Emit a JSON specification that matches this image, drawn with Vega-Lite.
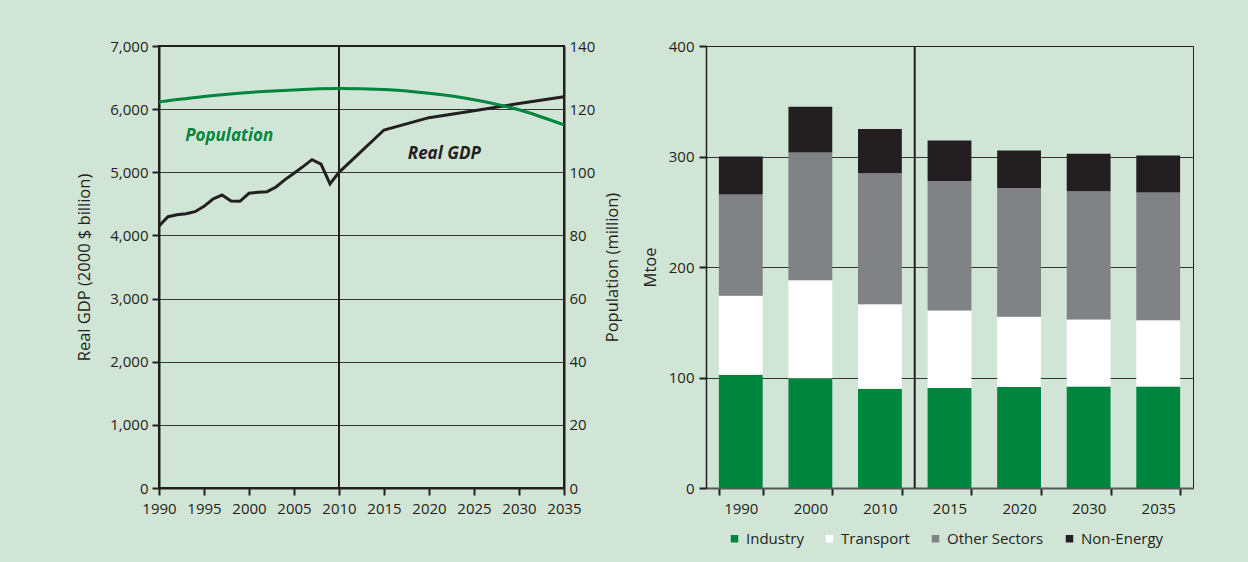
{
  "$schema": "https://vega.github.io/schema/vega-lite/v6.json",
  "background": "#d1e5d7",
  "padding": {"left": 75, "top": 38, "right": 56, "bottom": 15},
  "config": {
    "font": "Open Sans",
    "view": {"stroke": null},
    "axis": {
      "labelFont": "Open Sans", "labelFontSize": 15, "labelColor": "#231f20",
      "titleFont": "Open Sans", "titleFontSize": 16.5, "titleFontWeight": "normal", "titleColor": "#231f20",
      "domainColor": "#231f20", "tickColor": "#231f20", "gridColor": "#231f20", "gridWidth": 1, "gridOpacity": 0.9, "tickSize": 7,
      "labelOverlap": false
    },
    "concat": {"spacing": 18}
  },
  "hconcat": [
    {
      "width": 405,
      "height": 442,
      "view": {"stroke": "#231f20", "strokeWidth": 2},
      "layer": [
        {
          "data": {"values": [
            {"year": 1990, "gdp": 4150}, {"year": 1991, "gdp": 4296}, {"year": 1992, "gdp": 4328},
            {"year": 1993, "gdp": 4344}, {"year": 1994, "gdp": 4376}, {"year": 1995, "gdp": 4460},
            {"year": 1996, "gdp": 4577}, {"year": 1997, "gdp": 4640}, {"year": 1998, "gdp": 4545},
            {"year": 1999, "gdp": 4540}, {"year": 2000, "gdp": 4667}, {"year": 2001, "gdp": 4683},
            {"year": 2002, "gdp": 4693}, {"year": 2003, "gdp": 4767}, {"year": 2004, "gdp": 4884},
            {"year": 2005, "gdp": 4984}, {"year": 2006, "gdp": 5090}, {"year": 2007, "gdp": 5200},
            {"year": 2008, "gdp": 5130}, {"year": 2009, "gdp": 4815}, {"year": 2010, "gdp": 5000},
            {"year": 2015, "gdp": 5670}, {"year": 2020, "gdp": 5865}, {"year": 2025, "gdp": 5975},
            {"year": 2030, "gdp": 6090}, {"year": 2035, "gdp": 6195}
          ]},
          "layer": [
            {
              "data": {"values": [{"year": 2010}]},
              "mark": {"type": "rule", "color": "#231f20", "strokeWidth": 2},
              "encoding": {
                "x": {"field": "year", "type": "quantitative"}
              }
            },
            {
              "mark": {"type": "line", "color": "#231f20", "strokeWidth": 3},
              "encoding": {
                "x": {
                  "field": "year", "type": "quantitative",
                  "scale": {"domain": [1990, 2035], "nice": false, "zero": false},
                  "axis": {
                    "title": null, "values": [1990, 1995, 2000, 2005, 2010, 2015, 2020, 2025, 2030, 2035],
                    "format": "d", "grid": false, "domainWidth": 2, "tickWidth": 2, "labelPadding": 6,
                    "labelFlush": false
                  }
                },
                "y": {
                  "field": "gdp", "type": "quantitative",
                  "scale": {"domain": [0, 7000], "nice": false},
                  "axis": {
                    "title": "Real GDP (2000 $ billion)", "values": [0, 1000, 2000, 3000, 4000, 5000, 6000, 7000],
                    "format": ",d", "grid": true, "domainWidth": 2, "tickWidth": 2, "labelPadding": 4, "titlePadding": 17
                  }
                }
              }
            },
            {
              "data": {"values": [{"label": "Population", "year": 1997.8, "gdp": 5568}]},
              "mark": {"type": "text", "color": "#00853f", "fontSize": 17, "fontWeight": "bold", "fontStyle": "italic"},
              "encoding": {
                "x": {"field": "year", "type": "quantitative"},
                "y": {"field": "gdp", "type": "quantitative"},
                "text": {"field": "label"}
              }
            },
            {
              "data": {"values": [{"label": "Real GDP", "year": 2021.7, "gdp": 5282}]},
              "mark": {"type": "text", "color": "#231f20", "fontSize": 17, "fontWeight": "bold", "fontStyle": "italic"},
              "encoding": {
                "x": {"field": "year", "type": "quantitative"},
                "y": {"field": "gdp", "type": "quantitative"},
                "text": {"field": "label"}
              }
            }
          ]
        },
        {
          "data": {"values": [
            {"year": 1990, "pop": 122.3}, {"year": 1995, "pop": 124.0}, {"year": 2000, "pop": 125.3},
            {"year": 2005, "pop": 126.1}, {"year": 2010, "pop": 126.5}, {"year": 2015, "pop": 126.2},
            {"year": 2020, "pop": 125.0}, {"year": 2025, "pop": 123.0}, {"year": 2030, "pop": 119.8},
            {"year": 2035, "pop": 115.0}
          ]},
          "mark": {"type": "line", "color": "#00853f", "strokeWidth": 3, "interpolate": "monotone"},
          "encoding": {
            "x": {"field": "year", "type": "quantitative"},
            "y": {
              "field": "pop", "type": "quantitative",
              "scale": {"domain": [0, 140], "nice": false},
              "axis": {
                "orient": "right", "title": "Population (million)", "values": [0, 20, 40, 60, 80, 100, 120, 140],
                "grid": false, "ticks": false, "domainWidth": 2, "labelPadding": 5, "titlePadding": 10,
                "titleAngle": 270, "titleBaseline": "top"
              }
            }
          }
        }
      ],
      "resolve": {"scale": {"y": "independent"}}
    },
    {
      "width": 487,
      "height": 442,
      "view": {"stroke": "#231f20", "strokeWidth": 1},
      "layer": [
        {
          "data": {"values": [
            {"year": 1990, "sector": "Industry", "ord": 1, "value": 102.4},
            {"year": 1990, "sector": "Transport", "ord": 2, "value": 71.5},
            {"year": 1990, "sector": "Other Sectors", "ord": 3, "value": 91.7},
            {"year": 1990, "sector": "Non-Energy", "ord": 4, "value": 34.4},
            {"year": 2000, "sector": "Industry", "ord": 1, "value": 99.4},
            {"year": 2000, "sector": "Transport", "ord": 2, "value": 88.5},
            {"year": 2000, "sector": "Other Sectors", "ord": 3, "value": 115.7},
            {"year": 2000, "sector": "Non-Energy", "ord": 4, "value": 41.4},
            {"year": 2010, "sector": "Industry", "ord": 1, "value": 89.8},
            {"year": 2010, "sector": "Transport", "ord": 2, "value": 76.6},
            {"year": 2010, "sector": "Other Sectors", "ord": 3, "value": 118.5},
            {"year": 2010, "sector": "Non-Energy", "ord": 4, "value": 39.9},
            {"year": 2015, "sector": "Industry", "ord": 1, "value": 90.4},
            {"year": 2015, "sector": "Transport", "ord": 2, "value": 70.3},
            {"year": 2015, "sector": "Other Sectors", "ord": 3, "value": 117.2},
            {"year": 2015, "sector": "Non-Energy", "ord": 4, "value": 36.6},
            {"year": 2020, "sector": "Industry", "ord": 1, "value": 91.3},
            {"year": 2020, "sector": "Transport", "ord": 2, "value": 63.7},
            {"year": 2020, "sector": "Other Sectors", "ord": 3, "value": 116.6},
            {"year": 2020, "sector": "Non-Energy", "ord": 4, "value": 33.8},
            {"year": 2030, "sector": "Industry", "ord": 1, "value": 91.9},
            {"year": 2030, "sector": "Transport", "ord": 2, "value": 60.7},
            {"year": 2030, "sector": "Other Sectors", "ord": 3, "value": 116.0},
            {"year": 2030, "sector": "Non-Energy", "ord": 4, "value": 33.8},
            {"year": 2035, "sector": "Industry", "ord": 1, "value": 91.9},
            {"year": 2035, "sector": "Transport", "ord": 2, "value": 59.8},
            {"year": 2035, "sector": "Other Sectors", "ord": 3, "value": 115.7},
            {"year": 2035, "sector": "Non-Energy", "ord": 4, "value": 33.5}
          ]},
          "mark": {"type": "bar"},
          "encoding": {
            "x": {
              "field": "year", "type": "ordinal",
              "scale": {"domain": [1990, 2000, 2010, 2015, 2020, 2030, 2035], "paddingInner": 0.37, "paddingOuter": 0.185},
              "axis": {
                "title": null, "labelAngle": 0, "tickBand": "extent", "domainColor": "#58595b", "domainWidth": 2,
                "tickWidth": 2, "labelPadding": 6
              }
            },
            "y": {
              "field": "value", "type": "quantitative", "stack": "zero",
              "scale": {"domain": [0, 400], "nice": false},
              "axis": {
                "title": "Mtoe", "values": [0, 100, 200, 300, 400], "grid": true, "domainWidth": 1.5,
                "tickWidth": 2, "labelPadding": 5, "titlePadding": 10
              }
            },
            "color": {
              "field": "sector", "type": "nominal",
              "scale": {"domain": ["Industry", "Transport", "Other Sectors", "Non-Energy"], "range": ["#00853f", "#ffffff", "#808285", "#231f20"]},
              "legend": {
                "title": null, "orient": "none", "direction": "horizontal", "legendX": 568, "legendY": 485,
                "symbolType": "square", "symbolSize": 56, "symbolStrokeWidth": 0, "labelFontSize": 15,
                "labelFont": "Open Sans", "labelColor": "#231f20", "columnPadding": 18, "labelOffset": 4, "padding": 0
              }
            },
            "order": {"field": "ord", "type": "quantitative"}
          }
        },
        {
          "data": {"values": [{"year": 2010}]},
          "mark": {"type": "rule", "color": "#231f20", "strokeWidth": 2},
          "encoding": {
            "x": {"field": "year", "type": "ordinal", "bandPosition": 1.2937}
          }
        }
      ]
    }
  ]
}
